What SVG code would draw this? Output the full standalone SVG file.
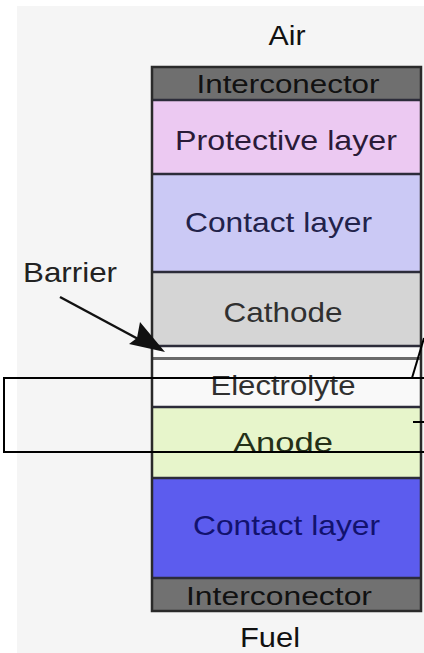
<svg xmlns="http://www.w3.org/2000/svg" width="424" height="653" viewBox="0 0 424 653">
<style>
text{font-family:"Liberation Sans",Arial,sans-serif;font-size:28px;text-anchor:middle}
.sep{stroke:#2c2c3a;stroke-width:2.5}
.lay{stroke:none}
</style>
<defs>
<marker id="ah" markerWidth="10" markerHeight="8" refX="9" refY="4" orient="auto" markerUnits="userSpaceOnUse" viewBox="0 0 10 8">
<path d="M0,0 L10,4 L0,8 L2,4 Z" fill="#111"/>
</marker>
</defs>
<rect width="424" height="653" fill="#ffffff"/>
<rect x="17" y="6" width="407" height="647" fill="#f5f5f5"/>
<text x="287" y="45" fill="#111" textLength="37" lengthAdjust="spacingAndGlyphs">Air</text>
<g id="interconnector-top">
<rect x="152" y="67" width="269" height="33" fill="#6f6f6f"/>
<text x="288" y="93" font-size="25" fill="#111" textLength="183" lengthAdjust="spacingAndGlyphs" style="font-size:25px">Interconector</text>
</g>
<g id="protective-layer">
<rect x="152" y="100" width="269" height="74" fill="#ecc9f2"/>
<text x="286" y="150" fill="#2a1a38" textLength="222" lengthAdjust="spacingAndGlyphs">Protective layer</text>
</g>
<g id="contact-layer-top">
<rect x="152" y="174" width="269" height="98" fill="#cbc9f5"/>
<text x="278.5" y="232" fill="#22224a" textLength="187" lengthAdjust="spacingAndGlyphs">Contact layer</text>
</g>
<g id="cathode">
<rect x="152" y="272" width="269" height="74" fill="#d5d5d5"/>
<text x="283" y="322" fill="#303030" textLength="119" lengthAdjust="spacingAndGlyphs">Cathode</text>
</g>
<g id="barrier">
<rect x="152" y="346" width="269" height="13" fill="#fbfbfb"/>
</g>
<g id="electrolyte">
<rect x="152" y="359" width="269" height="48" fill="#f9f9f9"/>
<text x="283" y="395" fill="#303030" textLength="145" lengthAdjust="spacingAndGlyphs">Electrolyte</text>
</g>
<g id="anode">
<rect x="152" y="407" width="269" height="71" fill="#e7f5cb"/>
<text x="283" y="452" fill="#243018" textLength="100" lengthAdjust="spacingAndGlyphs">Anode</text>
</g>
<g id="contact-layer-bottom">
<rect x="152" y="478" width="269" height="100" fill="#5c5cee"/>
<text x="286.5" y="535" fill="#12126e" textLength="187" lengthAdjust="spacingAndGlyphs">Contact layer</text>
</g>
<g id="interconnector-bottom">
<rect x="152" y="578" width="269" height="33" fill="#717171"/>
<text x="279" y="605" fill="#111" textLength="186" lengthAdjust="spacingAndGlyphs" style="font-size:25px">Interconector</text>
</g>
<text x="270" y="647" fill="#111" textLength="60" lengthAdjust="spacingAndGlyphs">Fuel</text>
<g id="separators">
<line class="sep" x1="152" y1="100" x2="421" y2="100"/>
<line class="sep" x1="152" y1="174" x2="421" y2="174"/>
<line class="sep" x1="152" y1="272" x2="421" y2="272"/>
<line class="sep" x1="152" y1="346" x2="421" y2="346" stroke="#555"/>
<line x1="152" y1="358.5" x2="421" y2="358.5" stroke="#6a6a6a" stroke-width="3"/>
<line class="sep" x1="152" y1="407" x2="421" y2="407"/>
<line class="sep" x1="152" y1="478" x2="421" y2="478"/>
<line class="sep" x1="152" y1="578" x2="421" y2="578"/>
<rect x="152" y="67" width="269" height="544" fill="none" stroke="#2a2a2a" stroke-width="2.5"/>
</g>
<text x="70" y="282" fill="#222" textLength="94" lengthAdjust="spacingAndGlyphs">Barrier</text>
<g id="connectors">
<line x1="60" y1="297" x2="140" y2="340" stroke="#111" stroke-width="2.5"/>
<path d="M165,352 L129,344 L137,338 L140,322 Z" fill="#111"/>
<rect x="4" y="378" width="424" height="74" fill="none" stroke="#000" stroke-width="2"/>
<line x1="412" y1="378" x2="424" y2="338" stroke="#000" stroke-width="2"/>
<line x1="413" y1="422" x2="424" y2="422" stroke="#000" stroke-width="2"/>
</g>
</svg>
